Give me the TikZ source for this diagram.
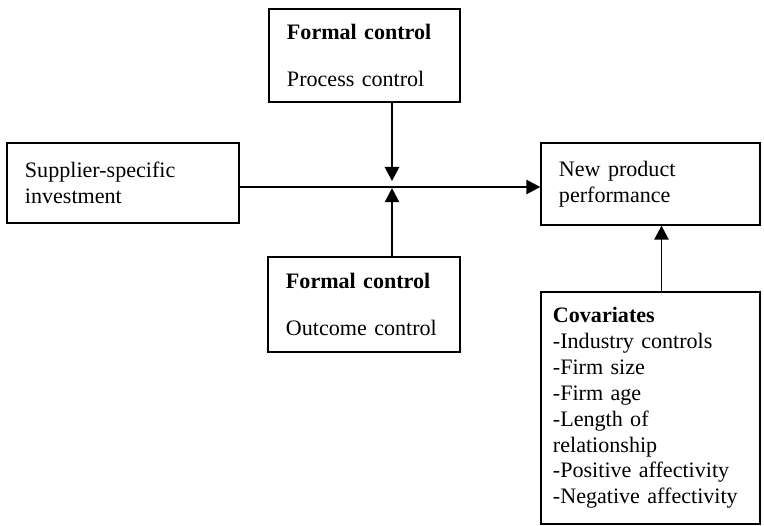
\documentclass[tikz,border=0pt]{standalone}
\usepackage{fontspec}
\setmainfont{Liberation Serif}
\usetikzlibrary{shapes,arrows.meta,positioning}

\begin{document}
\begin{tikzpicture}[x=0.025cm, y=-0.025cm,
    varbox/.style={draw, rectangle, line width=1pt, inner xsep=0.45cm, align=left,
        font=\fontsize{15.7}{18.4}\selectfont, execute at begin node={\hyphenpenalty=10000}},
    link/.style={-{Triangle[length=0.35cm, width=0.36cm]}, line width=1.1pt}]
    \useasboundingbox (0,0) rectangle (764,526);

    \node[varbox, minimum width=5.8cm, minimum height=2cm, text width=4.9cm] (supp) at (123,183) {Supplier-specific\\investment};
    \node[varbox, minimum width=4.775cm, minimum height=2.325cm, text width=3.875cm] (proc) at (364.5,55.5) {\textbf{Formal control}\\[15.6pt]Process control};
    \node[varbox, minimum width=4.8cm, minimum height=2.375cm, text width=3.9cm] (outc) at (364,304.5) {\textbf{Formal control}\\[15.6pt]Outcome control};
    \node[varbox, minimum width=5.475cm, minimum height=2.05cm, text width=4.575cm] (newp) at (650.5,184) {New product\\performance};
    \node[varbox, inner xsep=0.3cm, minimum width=5.475cm, minimum height=5.8cm, text width=4.875cm] (cov) at (650.5,408)
        {\textbf{Covariates}\\-Industry controls\\-Firm size\\-Firm age\\-Length of\\relationship\\-Positive affectivity\\-Negative affectivity};

    \coordinate (hub) at (392,187);
    \draw[link] (supp.east |- hub) -- (newp.west |- hub);
    \draw[link] (proc.south -| hub) -- ([yshift=0.15cm]hub);
    \draw[link] (outc.north -| hub) -- ([yshift=-0.03cm]hub);
    \draw[link] ([xshift=0.275cm]cov.north) -- ([xshift=0.275cm]newp.south);
\end{tikzpicture}
\end{document}
